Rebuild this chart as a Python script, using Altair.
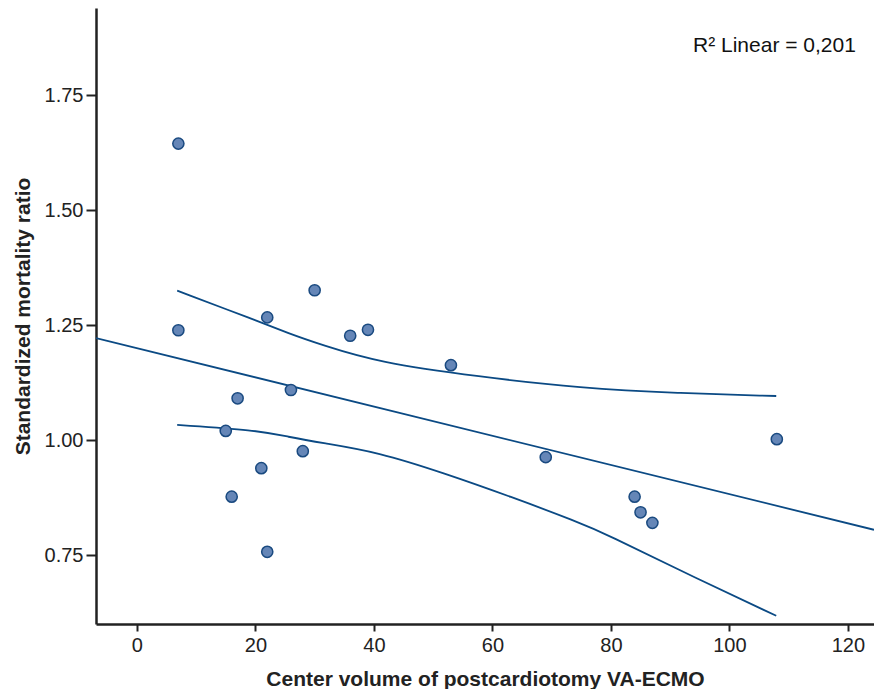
import altair as alt
import pandas as pd

# Scatter data (center volume, standardized mortality ratio)
volume = [7, 7, 22, 30, 36, 39, 53, 26, 17, 15, 21, 28, 16, 22, 69, 84, 85, 87, 108]
smr = [1.645, 1.239, 1.267, 1.326, 1.227, 1.240, 1.163, 1.109, 1.091, 1.020,
       0.939, 0.976, 0.877, 0.757, 0.963, 0.877, 0.843, 0.820, 1.002]

# Fitted regression line (end points)
fit_x = [-6.9, 124.4]
fit_y = [1.222, 0.805]

# Upper confidence curve
upper_x = [6.8, 20, 25.6, 31.2, 40.7, 57.6, 75, 91.2, 107.9]
upper_y = [1.325, 1.261, 1.232, 1.207, 1.169, 1.138, 1.113, 1.102, 1.096]

# Lower confidence curve
lower_x = [6.8, 20, 25.6, 31.2, 40.7, 51.9, 63.1, 74.4, 79, 94.6, 107.9]
lower_y = [1.033, 1.022, 1.007, 0.994, 0.974, 0.928, 0.877, 0.822, 0.797, 0.698, 0.618]

x_ticks = [0, 20, 40, 60, 80, 100, 120]
y_ticks = [0.75, 1.00, 1.25, 1.50, 1.75]
r2_label = "R² Linear = 0,201"

pts = pd.DataFrame({"x": volume, "y": smr})
fit = pd.DataFrame({"x": fit_x, "y": fit_y})
up = pd.DataFrame({"x": upper_x, "y": upper_y})
lo = pd.DataFrame({"x": lower_x, "y": lower_y})

LINE = "#0b4a84"
FONT = "Liberation Sans"

xscale = alt.Scale(domain=[-6.9, 124.4], nice=False, zero=False)
yscale = alt.Scale(domain=[0.6, 1.94], nice=False, zero=False)

xenc = alt.X("x:Q", scale=xscale,
             axis=alt.Axis(values=x_ticks, title="Center volume of postcardiotomy VA-ECMO",
                           format="d"))
yenc = alt.Y("y:Q", scale=yscale,
             axis=alt.Axis(values=y_ticks, title="Standardized mortality ratio",
                           format=".2f"))

base_line = dict(color=LINE, strokeWidth=1.8, clip=True)

fit_layer = alt.Chart(fit).mark_line(**base_line).encode(x=xenc, y=yenc)
up_layer = alt.Chart(up).mark_line(interpolate="basis", **base_line).encode(x="x:Q", y="y:Q")
lo_layer = alt.Chart(lo).mark_line(interpolate="basis", **base_line).encode(x="x:Q", y="y:Q")

pts_layer = alt.Chart(pts).mark_point(
    filled=True, size=125, fill="#6586b7", stroke="#1a4a80", strokeWidth=1.5, opacity=1
).encode(x="x:Q", y="y:Q")

txt = alt.Chart(pd.DataFrame({"t": [r2_label]})).mark_text(
    align="left", baseline="middle", fontSize=21, font=FONT, color="#111"
).encode(x=alt.value(597), y=alt.value(38), text="t:N")

chart = alt.layer(fit_layer, up_layer, lo_layer, pts_layer, txt).properties(
    width=778, height=616, padding={"left": 4, "top": 0, "right": 0, "bottom": 0}
).configure_view(stroke=None).configure_axis(
    grid=False,
    domainColor="#222",
    domainWidth=2.5,
    tickColor="#222",
    tickWidth=2,
    tickSize=10,
    labelFont=FONT,
    labelFontSize=20,
    labelColor="#222",
    labelPadding=3,
    titleFont=FONT,
    titleFontSize=21,
    titleFontWeight="bold",
    titleColor="#222",
).configure_axisX(titlePadding=13, tickSize=7, labelPadding=4).configure_axisY(titlePadding=11)

chart.save("out.html", embed_options={"renderer": "svg", "actions": False})
